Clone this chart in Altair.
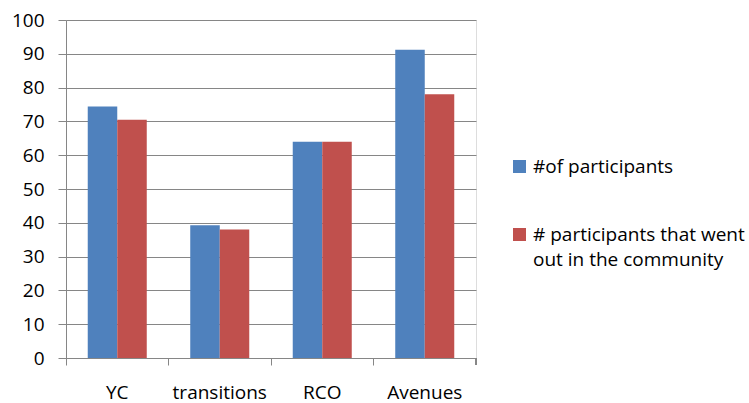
import altair as alt
import pandas as pd

categories = ["YC", "transitions", "RCO", "Avenues"]
series_names = ["#of participants", "# participants that went out in the community"]
participants = [74.4, 39.3, 64.0, 91.2]
went_out = [70.5, 38.0, 64.0, 78.0]
y_ticks = [0, 10, 20, 30, 40, 50, 60, 70, 80, 90, 100]

rows = []
for c, a, b in zip(categories, participants, went_out):
    rows.append({"cat": c, "series": series_names[0], "value": a})
    rows.append({"cat": c, "series": series_names[1], "value": b})
df = pd.DataFrame(rows)

FONT = "Open Sans"
FS = 19
DY = 6
W, H = 410, 338

bars = alt.Chart(df).mark_bar().encode(
    x=alt.X("cat:N", sort=categories, title=None,
            scale=alt.Scale(paddingInner=0, paddingOuter=0),
            axis=alt.Axis(labelAngle=0, bandPosition=0, tickSize=7, tickColor="#868686",
                          domainColor="#868686", labelPadding=18 - DY, labelFontSize=FS,
                          labelFont=FONT, labelColor="#000000", grid=False)),
    xOffset=alt.XOffset("series:N", sort=series_names,
                        scale=alt.Scale(paddingInner=0, paddingOuter=0.737)),
    y=alt.Y("value:Q", title=None,
            scale=alt.Scale(domain=[0, 100], nice=False),
            axis=alt.Axis(values=y_ticks, tickSize=8, tickColor="#868686",
                          domainColor="#868686", gridColor="#868686", gridWidth=1,
                          labelPadding=14, labelFontSize=FS, labelFont=FONT,
                          labelOffset=-DY, labelColor="#000000")),
    color=alt.Color("series:N", sort=series_names,
                    scale=alt.Scale(domain=series_names, range=["#4F81BD", "#C0504D"]),
                    legend=alt.Legend(title=None, orient="none", legendX=444, legendY=137,
                                      symbolType="square", symbolSize=169,
                                      symbolStrokeWidth=0, labelFont=FONT, labelFontSize=FS,
                                      labelColor="#000000", rowPadding=48,
                                      labelLimit=300, labelOffset=4, labelBaseline="alphabetic",
                                      labelExpr="datum.label == '# participants that went out in the community' ? ['# participants that went', 'out in the community'] : datum.label")),
)

end_tick = alt.Chart(df).mark_rule(color="#868686").encode(
    x=alt.value(W), y=alt.value(H), y2=alt.value(H + 7)
)

chart = alt.layer(bars, end_tick).properties(
    width=W, height=H,
    autosize=alt.AutoSizeParams(type="none"),
    padding={"left": 66, "top": 20, "right": 273, "bottom": 45},
).configure_view(stroke=None).configure(
    background="white",
    style={"guide-label": {"lineHeight": 25, "dy": DY}},
)

chart.save("out.html", embed_options={"renderer": "svg", "actions": False})
